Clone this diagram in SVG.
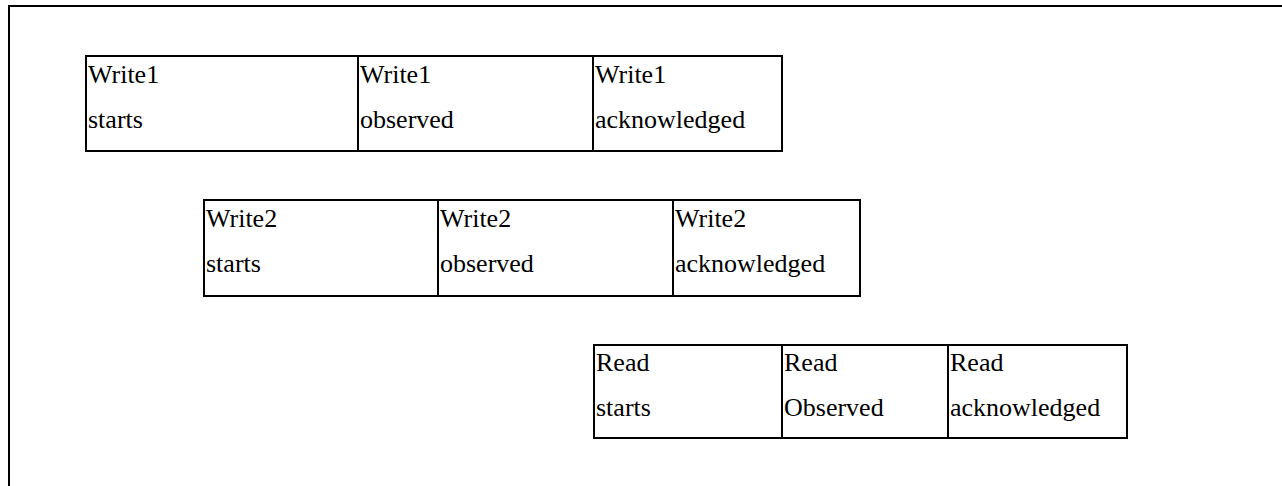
<svg xmlns="http://www.w3.org/2000/svg" width="1282" height="486" viewBox="0 0 1282 486">
  <style>
    .cell { fill: #ffffff; stroke: #000000; stroke-width: 2; }
    .lbl { font-family: "Liberation Serif", "Times New Roman", serif; font-size: 26px; fill: #000000; }
  </style>
  <rect width="1282" height="486" fill="#ffffff"/>
  <!-- frame: top and left edges only -->
  <path d="M9,486 V6 H1282" fill="none" stroke="#000" stroke-width="2"/>

  <!-- Write1 timeline -->
  <g id="write1">
    <g id="write1-starts">
      <rect class="cell" x="86" y="56" width="272" height="95"/>
      <text class="lbl" x="88" y="83">Write1</text>
      <text class="lbl" x="88" y="128">starts</text>
    </g>
    <g id="write1-observed">
      <rect class="cell" x="358" y="56" width="235" height="95"/>
      <text class="lbl" x="360" y="83">Write1</text>
      <text class="lbl" x="360" y="128">observed</text>
    </g>
    <g id="write1-acknowledged">
      <rect class="cell" x="593" y="56" width="189" height="95"/>
      <text class="lbl" x="595" y="83">Write1</text>
      <text class="lbl" x="595" y="128">acknowledged</text>
    </g>
  </g>

  <!-- Write2 timeline -->
  <g id="write2">
    <g id="write2-starts">
      <rect class="cell" x="204" y="200" width="234" height="96"/>
      <text class="lbl" x="206" y="227">Write2</text>
      <text class="lbl" x="206" y="272">starts</text>
    </g>
    <g id="write2-observed">
      <rect class="cell" x="438" y="200" width="235" height="96"/>
      <text class="lbl" x="440" y="227">Write2</text>
      <text class="lbl" x="440" y="272">observed</text>
    </g>
    <g id="write2-acknowledged">
      <rect class="cell" x="673" y="200" width="187" height="96"/>
      <text class="lbl" x="675" y="227">Write2</text>
      <text class="lbl" x="675" y="272">acknowledged</text>
    </g>
  </g>

  <!-- Read timeline -->
  <g id="read">
    <g id="read-starts">
      <rect class="cell" x="594" y="345" width="188" height="93"/>
      <text class="lbl" x="596" y="371">Read</text>
      <text class="lbl" x="596" y="416">starts</text>
    </g>
    <g id="read-observed">
      <rect class="cell" x="782" y="345" width="166" height="93"/>
      <text class="lbl" x="784" y="371">Read</text>
      <text class="lbl" x="784" y="416">Observed</text>
    </g>
    <g id="read-acknowledged">
      <rect class="cell" x="948" y="345" width="179" height="93"/>
      <text class="lbl" x="950" y="371">Read</text>
      <text class="lbl" x="950" y="416">acknowledged</text>
    </g>
  </g>

  <g id="connectors"/>
</svg>
